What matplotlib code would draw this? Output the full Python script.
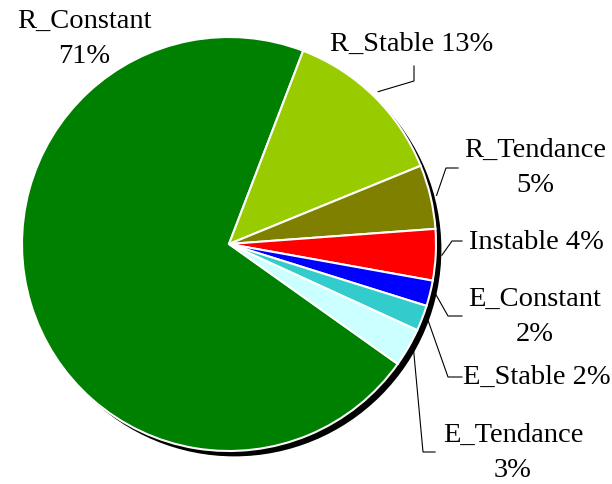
import numpy as np
import matplotlib

matplotlib.use("Agg")
import matplotlib.pyplot as plt
from matplotlib.patches import Circle

plt.rcParams["font.family"] = ["Liberation Serif", "DejaVu Serif"]

# Share of each class (percent), drawn clockwise
categories = ["R_Constant", "R_Stable", "R_Tendance", "Instable",
              "E_Constant", "E_Stable", "E_Tendance"]
shares = [71, 13, 5, 4, 2, 2, 3]
colors = ["#008000", "#99CC00", "#808000", "#FF0000",
          "#0000FF", "#33CCCC", "#CCFFFF"]

W, H = 612, 484
CX, CY, R = 229, 244, 207  # pie centre and radius in pixels


def px(x, y):
    """Pixel position (from top-left) -> data coordinates of the pie axes."""
    return (x - CX) / R, (CY - y) / R


# label text, text centre, leader elbow, leader end (pixels); None = no leader
label_layout = {
    "R_Constant": ("R_Constant\n{}%", (84, 39), None, None),
    "R_Stable": ("R_Stable {}%", (412, 44), (414, 81), (414, 66)),
    "R_Tendance": ("R_Tendance\n{}%", (535, 168), (446, 168), (458, 168)),
    "Instable": ("Instable {}%", (536, 243), (452, 241), (462, 241)),
    "E_Constant": ("E_Constant\n{}%", (535, 317), (448, 316), (462, 316)),
    "E_Stable": ("E_Stable {}%", (537, 377), (448, 377), (462, 377)),
    "E_Tendance": ("E_Tendance\n{}%", (513, 453), (423, 452), (435, 452)),
}

fig = plt.figure(figsize=(W / 100, H / 100), dpi=100)
ax = fig.add_axes([0, 0, 1, 1])

wedges, _ = ax.pie(
    shares,
    colors=colors,
    startangle=69 + 3.6 * shares[0],
    counterclock=False,
    radius=1.0,
    wedgeprops=dict(edgecolor="white", linewidth=1.5),
)
for w in wedges:
    w.set_zorder(2)

# solid drop shadow to the lower right
ax.add_patch(Circle((0.026, -0.026), 1.0, facecolor="black",
                    edgecolor="none", zorder=1))

for w, name, val in zip(wedges, categories, shares):
    fmt, (tx, ty), elbow, end = label_layout[name]
    x, y = px(tx, ty)
    ax.text(x, y, fmt.format(val), ha="center", va="center",
            fontsize=20.5, linespacing=1.5, zorder=3)
    if elbow is None:
        continue
    mid = np.deg2rad((w.theta1 + w.theta2) / 2)
    ax0, ay0 = 1.03 * np.cos(mid), 1.03 * np.sin(mid)
    ex, ey = px(*elbow)
    nx, ny = px(*end)
    ax.plot([ax0, ex, nx], [ay0, ey, ny], color="black", lw=0.8,
            solid_joinstyle="miter", zorder=3)

ax.set_xlim(-CX / R, (W - CX) / R)
ax.set_ylim(-(H - CY) / R, CY / R)
ax.set_aspect("auto")
ax.axis("off")

fig.savefig("out.png", dpi=100, facecolor="white")
